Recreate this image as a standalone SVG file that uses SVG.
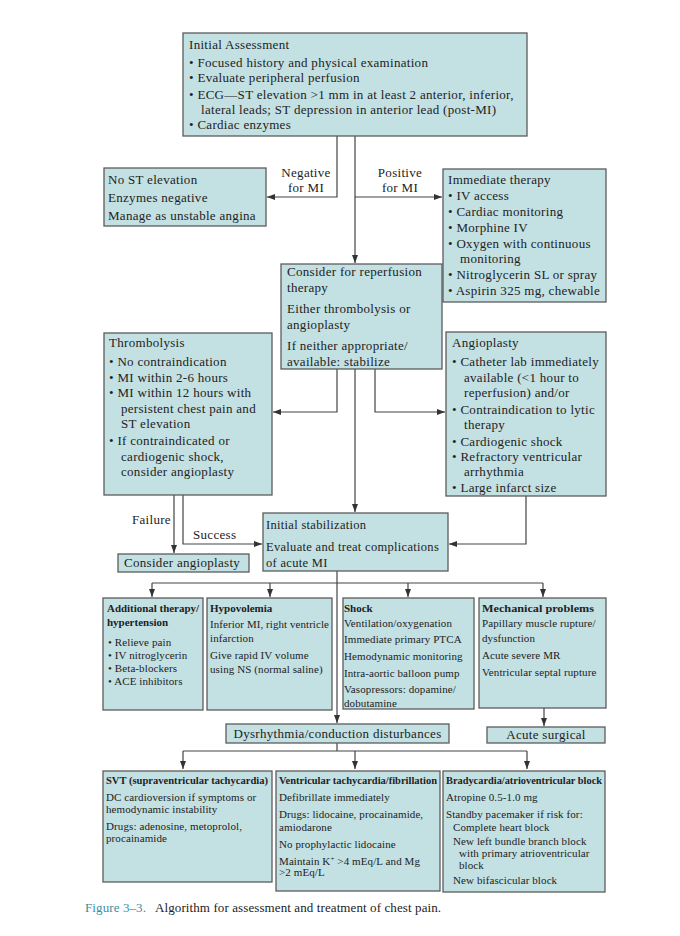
<svg xmlns="http://www.w3.org/2000/svg" width="680" height="936" viewBox="0 0 680 936">
<style>
.box{fill:#c3e0e3;stroke:#5c5c5c;stroke-width:1.3}
.t{font-family:"Liberation Serif","Times New Roman",serif;font-size:13px;fill:#222;letter-spacing:0.3px}
.m{font-size:12.5px}
.s{font-size:11px;letter-spacing:0.1px}
.b{font-weight:bold;letter-spacing:0}
.ln{fill:none;stroke:#444;stroke-width:1.2}
.cap{font-family:"Liberation Serif","Times New Roman",serif;font-size:13px;fill:#222;letter-spacing:0.1px}
</style>
<defs>
<marker id="ah" viewBox="0 0 8 6" refX="8" refY="3" markerWidth="8" markerHeight="6" markerUnits="userSpaceOnUse" orient="auto">
<path d="M0,0 L8,3 L0,6 z" fill="#333"/>
</marker>
</defs>
<rect width="680" height="936" fill="#fff"/>

<g id="connectors">
<polyline class="ln" points="337,136 337,197 267,197" marker-end="url(#ah)"/>
<polyline class="ln" points="355,136 355,263" marker-end="url(#ah)"/>
<polyline class="ln" points="355,197 442,197" marker-end="url(#ah)"/>
<polyline class="ln" points="337,369 337,412 273,412" marker-end="url(#ah)"/>
<polyline class="ln" points="375,369 375,412 445,412" marker-end="url(#ah)"/>
<polyline class="ln" points="355,369 355,512" marker-end="url(#ah)"/>
<polyline class="ln" points="174,495 174,553" marker-end="url(#ah)"/>
<polyline class="ln" points="183,495 183,544 262,544" marker-end="url(#ah)"/>
<polyline class="ln" points="526,496 526,544 449,544" marker-end="url(#ah)"/>
<polyline class="ln" points="337,571 337,723" marker-end="url(#ah)"/>
<polyline class="ln" points="152,583 543,583"/>
<polyline class="ln" points="152,583 152,597" marker-end="url(#ah)"/>
<polyline class="ln" points="270,583 270,597" marker-end="url(#ah)"/>
<polyline class="ln" points="408,583 408,597" marker-end="url(#ah)"/>
<polyline class="ln" points="543,583 543,597" marker-end="url(#ah)"/>
<polyline class="ln" points="544,708 544,726" marker-end="url(#ah)"/>
<polyline class="ln" points="337,743 337,751"/>
<polyline class="ln" points="183,751 527,751"/>
<polyline class="ln" points="183,751 183,769" marker-end="url(#ah)"/>
<polyline class="ln" points="355,751 355,769" marker-end="url(#ah)"/>
<polyline class="ln" points="527,751 527,769" marker-end="url(#ah)"/>
<text class="t" x="306" y="177" text-anchor="middle">Negative</text>
<text class="t" x="306" y="192" text-anchor="middle">for MI</text>
<text class="t" x="400" y="177" text-anchor="middle">Positive</text>
<text class="t" x="400" y="192" text-anchor="middle">for MI</text>
<text class="t" x="132" y="524">Failure</text>
<text class="t" x="193" y="539">Success</text>
</g>

<g id="initial-assessment">
<rect class="box" x="183" y="33" width="344" height="103"/>
<text class="t" x="189" y="49">Initial Assessment</text>
<text class="t" x="189" y="67">• Focused history and physical examination</text>
<text class="t" x="189" y="82">• Evaluate peripheral perfusion</text>
<text class="t" x="189" y="99">• ECG—ST elevation &gt;1 mm in at least 2 anterior, inferior,</text>
<text class="t" x="201" y="114">lateral leads; ST depression in anterior lead (post-MI)</text>
<text class="t" x="189" y="129">• Cardiac enzymes</text>
</g>

<g id="no-st">
<rect class="box" x="104" y="168" width="162" height="58"/>
<text class="t" x="108" y="184">No ST elevation</text>
<text class="t" x="108" y="202">Enzymes negative</text>
<text class="t" x="108" y="220">Manage as unstable angina</text>
</g>

<g id="immediate-therapy">
<rect class="box" x="443" y="169" width="163" height="133"/>
<text class="t" x="448" y="184">Immediate therapy</text>
<text class="t" x="448" y="200">• IV access</text>
<text class="t" x="448" y="216">• Cardiac monitoring</text>
<text class="t" x="448" y="232">• Morphine IV</text>
<text class="t" x="448" y="248">• Oxygen with continuous</text>
<text class="t" x="460" y="263">monitoring</text>
<text class="t" x="448" y="279">• Nitroglycerin SL or spray</text>
<text class="t" x="448" y="295">• Aspirin 325 mg, chewable</text>
</g>

<g id="reperfusion">
<rect class="box" x="281" y="264" width="161" height="105"/>
<text class="t" x="287" y="276">Consider for reperfusion</text>
<text class="t" x="287" y="292">therapy</text>
<text class="t" x="287" y="313">Either thrombolysis or</text>
<text class="t" x="287" y="329">angioplasty</text>
<text class="t" x="287" y="350">If neither appropriate/</text>
<text class="t" x="287" y="366">available: stabilize</text>
</g>

<g id="thrombolysis">
<rect class="box" x="104" y="333" width="168" height="162"/>
<text class="t" x="109" y="347">Thrombolysis</text>
<text class="t" x="109" y="366">• No contraindication</text>
<text class="t" x="109" y="382">• MI within 2-6 hours</text>
<text class="t" x="109" y="397">• MI within 12 hours with</text>
<text class="t" x="121" y="413">persistent chest pain and</text>
<text class="t" x="121" y="428">ST elevation</text>
<text class="t" x="109" y="445">• If contraindicated or</text>
<text class="t" x="121" y="461">cardiogenic shock,</text>
<text class="t" x="121" y="476">consider angioplasty</text>
</g>

<g id="angioplasty">
<rect class="box" x="446" y="332" width="160" height="164"/>
<text class="t" x="452" y="347">Angioplasty</text>
<text class="t" x="452" y="366">• Catheter lab immediately</text>
<text class="t" x="464" y="382">available (&lt;1 hour to</text>
<text class="t" x="464" y="397">reperfusion) and/or</text>
<text class="t" x="452" y="414">• Contraindication to lytic</text>
<text class="t" x="464" y="429">therapy</text>
<text class="t" x="452" y="446">• Cardiogenic shock</text>
<text class="t" x="452" y="461">• Refractory ventricular</text>
<text class="t" x="464" y="476">arrhythmia</text>
<text class="t" x="452" y="492">• Large infarct size</text>
</g>

<g id="consider-angioplasty">
<rect class="box" x="118" y="554" width="131" height="18"/>
<text class="t" x="124" y="567">Consider angioplasty</text>
</g>

<g id="initial-stabilization">
<rect class="box" x="263" y="513" width="185" height="58"/>
<text class="t m" x="266" y="529">Initial stabilization</text>
<text class="t m" x="266" y="551">Evaluate and treat complications</text>
<text class="t m" x="266" y="567">of acute MI</text>
</g>

<g id="additional-therapy">
<rect class="box" x="103" y="598" width="100" height="112"/>
<text class="t s b" x="107" y="612" textLength="92" lengthAdjust="spacingAndGlyphs">Additional therapy/</text>
<text class="t s b" x="107" y="626">hypertension</text>
<text class="t s" x="108" y="646">• Relieve pain</text>
<text class="t s" x="108" y="659">• IV nitroglycerin</text>
<text class="t s" x="108" y="672">• Beta-blockers</text>
<text class="t s" x="108" y="685">• ACE inhibitors</text>
</g>

<g id="hypovolemia">
<rect class="box" x="207" y="598" width="125" height="112"/>
<text class="t s b" x="210" y="612">Hypovolemia</text>
<text class="t s" x="210" y="628" textLength="119" lengthAdjust="spacingAndGlyphs">Inferior MI, right ventricle</text>
<text class="t s" x="210" y="642">infarction</text>
<text class="t s" x="210" y="659">Give rapid IV volume</text>
<text class="t s" x="210" y="673">using NS (normal saline)</text>
</g>

<g id="shock">
<rect class="box" x="343" y="598" width="131" height="111"/>
<text class="t s b" x="344" y="612">Shock</text>
<text class="t s" x="344" y="627">Ventilation/oxygenation</text>
<text class="t s" x="344" y="643">Immediate primary PTCA</text>
<text class="t s" x="344" y="660">Hemodynamic monitoring</text>
<text class="t s" x="344" y="677">Intra-aortic balloon pump</text>
<text class="t s" x="344" y="693">Vasopressors: dopamine/</text>
<text class="t s" x="344" y="707">dobutamine</text>
</g>

<g id="mechanical">
<rect class="box" x="479" y="598" width="127" height="110"/>
<text class="t s b" x="482" y="612" textLength="112" lengthAdjust="spacingAndGlyphs">Mechanical problems</text>
<text class="t s" x="482" y="627">Papillary muscle rupture/</text>
<text class="t s" x="482" y="642">dysfunction</text>
<text class="t s" x="482" y="659">Acute severe MR</text>
<text class="t s" x="482" y="676">Ventricular septal rupture</text>
</g>

<g id="dysrhythmia">
<rect class="box" x="226" y="724" width="223" height="19"/>
<text class="t" x="337.5" y="738" text-anchor="middle">Dysrhythmia/conduction disturbances</text>
</g>

<g id="acute-surgical">
<rect class="box" x="487" y="727" width="118" height="16"/>
<text class="t" x="546" y="739" text-anchor="middle">Acute surgical</text>
</g>

<g id="svt">
<rect class="box" x="103" y="771" width="169" height="111"/>
<text class="t s b" x="106" y="784" textLength="162" lengthAdjust="spacingAndGlyphs">SVT (supraventricular tachycardia)</text>
<text class="t s" x="106" y="801">DC cardioversion if symptoms or</text>
<text class="t s" x="106" y="813">hemodynamic instability</text>
<text class="t s" x="106" y="830">Drugs: adenosine, metoprolol,</text>
<text class="t s" x="106" y="842">procainamide</text>
</g>

<g id="vt">
<rect class="box" x="276" y="771" width="164" height="120"/>
<text class="t s b" x="279" y="784" textLength="158" lengthAdjust="spacingAndGlyphs">Ventricular tachycardia/fibrillation</text>
<text class="t s" x="279" y="801">Defibrillate immediately</text>
<text class="t s" x="279" y="818">Drugs: lidocaine, procainamide,</text>
<text class="t s" x="279" y="831">amiodarone</text>
<text class="t s" x="279" y="848">No prophylactic lidocaine</text>
<text class="t s" x="279" y="865">Maintain K<tspan dy="-4" font-size="7">+</tspan><tspan dy="4"> &gt;4 mEq/L and Mg</tspan></text>
<text class="t s" x="279" y="876">&gt;2 mEq/L</text>
</g>

<g id="brady">
<rect class="box" x="443" y="771" width="162" height="121"/>
<text class="t s b" x="446" y="784" textLength="156" lengthAdjust="spacingAndGlyphs">Bradycardia/atrioventricular block</text>
<text class="t s" x="446" y="801">Atropine 0.5-1.0 mg</text>
<text class="t s" x="446" y="818">Standby pacemaker if risk for:</text>
<text class="t s" x="453" y="831">Complete heart block</text>
<text class="t s" x="453" y="845">New left bundle branch block</text>
<text class="t s" x="459" y="857">with primary atrioventricular</text>
<text class="t s" x="459" y="869">block</text>
<text class="t s" x="453" y="884">New bifascicular block</text>
</g>

<g id="caption">
<text class="cap" x="85" y="912"><tspan fill="#3b8ea5">Figure 3–3.</tspan><tspan x="155">Algorithm for assessment and treatment of chest pain.</tspan></text>
</g>
</svg>
